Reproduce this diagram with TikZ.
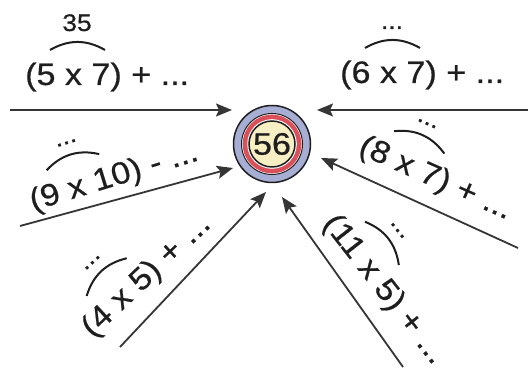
\documentclass[tikz,border=0pt]{standalone}
\usepackage{fontspec}
\setmainfont{Liberation Sans}
\newfontfamily\labfont[FakeStretch=1.1,FakeBold=0.6]{Liberation Sans}
\usetikzlibrary{arrows.meta}
\definecolor{ringblue}{HTML}{A7AED3}
\definecolor{ringred}{HTML}{D9505B}
\definecolor{cream}{HTML}{F7EFC4}
\definecolor{ink}{HTML}{1E1E1E}
\tikzset{
  maintxt/.style={inner sep=0pt, text=ink, font=\labfont\fontsize{31}{31}\selectfont},
  toptxt/.style={inner sep=0pt, text=ink, font=\labfont\fontsize{24}{24}\selectfont},
  arcline/.style={draw=ink, line width=2pt},
  feed/.style={draw=ink!90, line width=1.8pt, -{Stealth[length=16pt,width=13pt,inset=3pt]}},
}
\newcommand{\mklab}[5]{%
  \begin{scope}[shift={#2}, rotate=#3, transform shape]
    \node[maintxt, anchor=base west] (#1) at (0,0) {#4};
    \node[toptxt, anchor=base] (#1top) at (52,54) {#5};
    \draw[arcline] (25,35) to[bend left=30] (80,35);
  \end{scope}}
\begin{document}
\begin{tikzpicture}[x=1pt,y=1pt]
\useasboundingbox (0,0) rectangle (528,369);
% target
\node[circle, minimum size=77pt, inner sep=0pt, fill=ringblue, draw=ink, line width=1.5pt] (c) at (272,225) {};
\node[circle, minimum size=61pt, inner sep=0pt, fill=white, draw=ink, line width=1pt] (c2) at (c) {};
\node[circle, minimum size=58.6pt, inner sep=0pt, fill=ringred] (c3) at (c) {};
\node[circle, minimum size=49.6pt, inner sep=0pt, fill=white] (c4) at (c) {};
\node[circle, minimum size=46pt, inner sep=0pt, fill=cream, draw=ink, line width=1.5pt] (c5) at (c) {};
\node[maintxt] (v) at (c) {56};
% arrows
\coordinate (s1) at (10,259);  \coordinate (t1) at (232,259);
\coordinate (s2) at (528,259); \coordinate (t2) at (317,259);
\coordinate (s3) at (20,143);  \coordinate (t3) at (233,201);
\coordinate (s4) at (120,22);  \coordinate (t4) at (266,177);
\coordinate (s5) at (403,2);   \coordinate (t5) at (282,172);
\coordinate (s6) at (518,121); \coordinate (t6) at (321,211);
\draw[feed] (s1) -- (t1);
\draw[feed] (s2) -- (t2);
\draw[feed] (s3) -- (t3);
\draw[feed] (s4) -- (t4);
\draw[feed] (s5) -- (t5);
\draw[feed] (s6) -- (t6);
% labels
\mklab{l1}{(25,284)}{0}{(5 x 7) + ...}{35}
\mklab{l2}{(340,286)}{0}{(6 x 7) + ...}{...}
\mklab{l3}{(33,158)}{17}{(9 x 10) - ...}{...}
\mklab{l4}{(92.5,30.4)}{43.3}{(4 x 5) + ...}{...}
\mklab{l5}{(357,216)}{-24}{(8 x 7) + ...}{...}
\mklab{l6}{(322,145.4)}{-52}{(11 x 5) + ...}{...}
\end{tikzpicture}
\end{document}
